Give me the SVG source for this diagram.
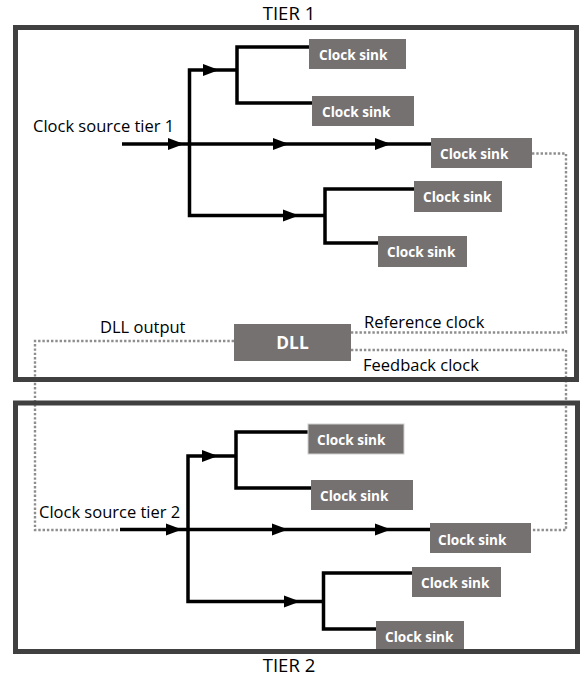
<svg xmlns="http://www.w3.org/2000/svg" width="585" height="677" viewBox="0 0 585 677">
  <style>
    .wire { fill: none; stroke: #000; stroke-width: 3.5; stroke-linejoin: miter; stroke-linecap: butt; }
    .dots { fill: none; stroke: #8e8e8e; stroke-width: 2.4; stroke-dasharray: 2.4 1.9; }
    .tier { fill: none; stroke: #404040; stroke-width: 5; }
    .sink { fill: #767171; }
    .sinktxt { font-family: "Open Sans", "DejaVu Sans", sans-serif; font-weight: bold; font-size: 13.6px; fill: #fff; }
    .dlltxt { font-family: "Open Sans", "DejaVu Sans", sans-serif; font-weight: bold; font-size: 17.3px; fill: #fff; text-anchor: middle; }
    .lbl { font-family: "Open Sans", "DejaVu Sans", sans-serif; font-size: 16.5px; fill: #000; }
    .title { font-family: "Open Sans", "DejaVu Sans", sans-serif; font-size: 18.5px; fill: #000; text-anchor: middle; }
  </style>
  <defs>
    <!-- arrowhead with its tip at the origin, pointing right -->
    <path id="ah" d="M0 0 L-16 -6 L-16 6 Z" fill="#000"/>
  </defs>

  <rect width="585" height="677" fill="#fff"/>

  <!-- connectors -->
  <g id="connectors">
    <!-- tier 1 clock tree -->
    <path class="wire" d="M122 144 H431"/>
    <path class="wire" d="M237 70 H189.5 V215.5 H325"/>
    <path class="wire" d="M309 47 H237 V103 H312"/>
    <path class="wire" d="M414 189 H325 V243 H378"/>
    <use href="#ah" x="184" y="144"/>
    <use href="#ah" x="289" y="144"/>
    <use href="#ah" x="391" y="144"/>
    <use href="#ah" x="219" y="70"/>
    <use href="#ah" x="299" y="215.5"/>

    <!-- tier 2 clock tree -->
    <path class="wire" d="M120 529.5 H430"/>
    <path class="wire" d="M236 456 H188 V601.5 H323.5"/>
    <path class="wire" d="M308 432 H236 V488 H311"/>
    <path class="wire" d="M412 573 H323.5 V629 H376"/>
    <use href="#ah" x="182" y="529.5"/>
    <use href="#ah" x="288" y="529.5"/>
    <use href="#ah" x="391" y="529.5"/>
    <use href="#ah" x="218" y="456"/>
    <use href="#ah" x="300" y="601.5"/>

    <!-- DLL loop -->
    <path class="dots" d="M532 153.5 H566 V332.5 H351"/>
    <path class="dots" d="M351 350 H566 V530 H531"/>
    <path class="dots" d="M234 341 H35 V530 H120"/>
  </g>

  <!-- tier outlines -->
  <g id="tier1">
    <rect class="tier" x="15.5" y="27.5" width="561" height="352"/>
    <text class="title" x="289" y="20">TIER 1</text>
  </g>
  <g id="tier2">
    <rect class="tier" x="15.5" y="403" width="562" height="248.5"/>
    <text class="title" x="289" y="672">TIER 2</text>
  </g>

  <!-- labels -->
  <g id="labels">
    <text class="lbl" x="33" y="132">Clock source tier 1</text>
    <text class="lbl" x="39" y="517.5">Clock source tier 2</text>
    <text class="lbl" x="100" y="333">DLL output</text>
    <text class="lbl" x="364" y="327.5">Reference clock</text>
    <text class="lbl" x="363" y="370.5">Feedback clock</text>
  </g>

  <!-- DLL -->
  <g id="dll">
    <rect class="sink" x="234" y="324" width="117" height="37"/>
    <text class="dlltxt" x="292.5" y="349">DLL</text>
  </g>

  <!-- tier 1 sinks -->
  <g id="t1-sink-a"><rect class="sink" x="309" y="39" width="97" height="30"/><text class="sinktxt" x="319" y="59.5">Clock sink</text></g>
  <g id="t1-sink-b"><rect class="sink" x="312" y="96" width="102" height="30"/><text class="sinktxt" x="322" y="116.5">Clock sink</text></g>
  <g id="t1-sink-c"><rect class="sink" x="431" y="138" width="101" height="30"/><text class="sinktxt" x="440" y="158.5">Clock sink</text></g>
  <g id="t1-sink-d"><rect class="sink" x="414" y="181" width="88" height="31"/><text class="sinktxt" x="423" y="202">Clock sink</text></g>
  <g id="t1-sink-e"><rect class="sink" x="378" y="236" width="89" height="31"/><text class="sinktxt" x="387" y="257">Clock sink</text></g>

  <!-- tier 2 sinks -->
  <g id="t2-sink-a"><rect class="sink" x="308" y="424" width="96" height="30" stroke="#d0d0d0" stroke-width="1"/><text class="sinktxt" x="317" y="444.5">Clock sink</text></g>
  <g id="t2-sink-b"><rect class="sink" x="311" y="480" width="102" height="30"/><text class="sinktxt" x="320" y="500.5">Clock sink</text></g>
  <g id="t2-sink-c"><rect class="sink" x="430" y="523" width="101" height="30"/><text class="sinktxt" x="438" y="544.5">Clock sink</text></g>
  <g id="t2-sink-d"><rect class="sink" x="412" y="567" width="89" height="30"/><text class="sinktxt" x="421" y="587.5">Clock sink</text></g>
  <g id="t2-sink-e"><rect class="sink" x="376" y="621" width="88" height="28"/><text class="sinktxt" x="385" y="641.5">Clock sink</text></g>
</svg>
